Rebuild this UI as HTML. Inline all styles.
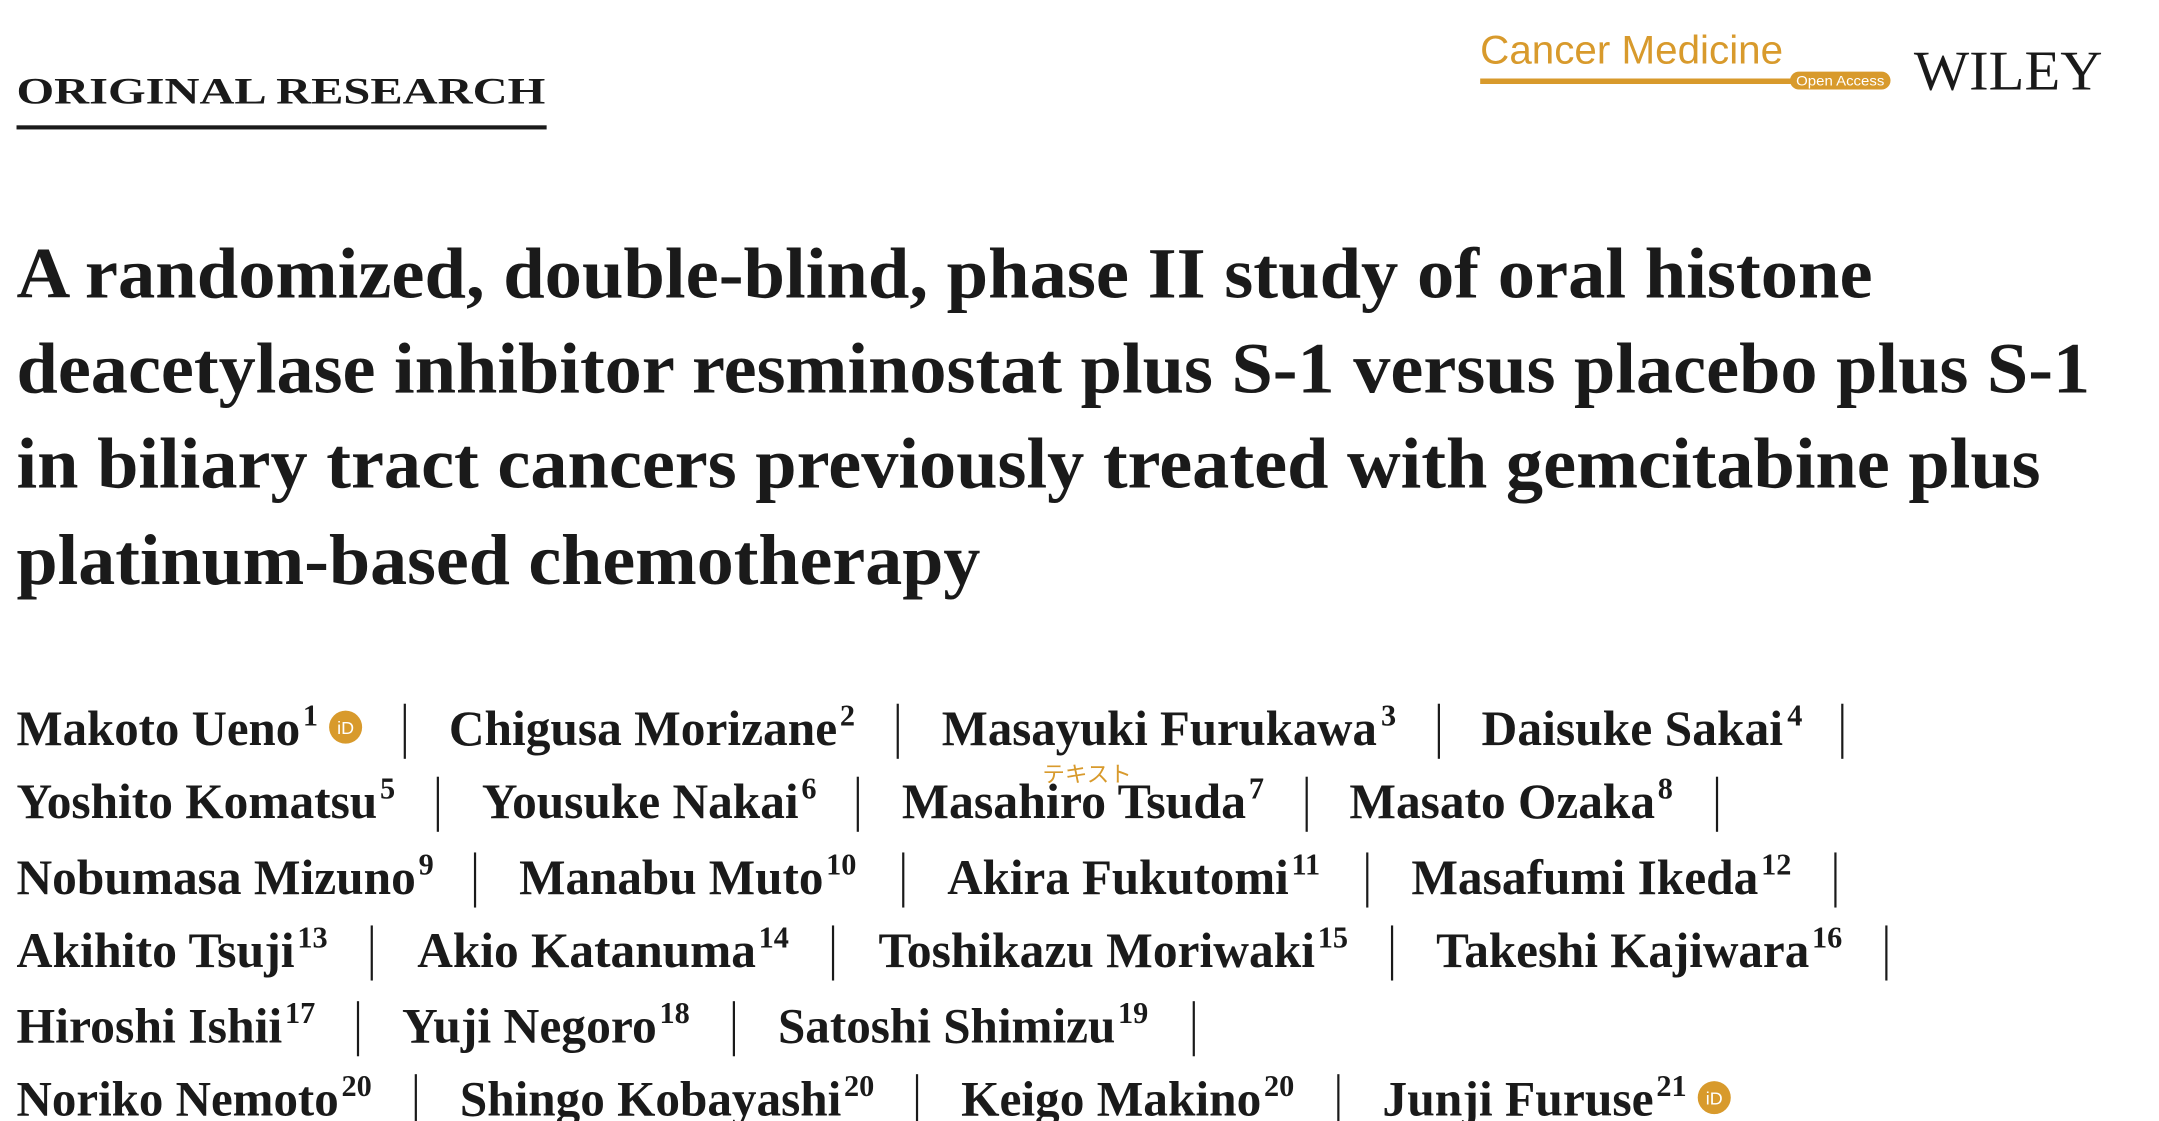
<!DOCTYPE html>
<html><head><meta charset="utf-8">
<style>
html,body{margin:0;padding:0;background:#fff;}
svg{display:block;}
.ser{font-family:"Liberation Serif","Noto Serif CJK SC",serif;font-weight:bold;fill:#1a1a1a;}
.san{font-family:"Liberation Sans","Noto Sans CJK JP",sans-serif;}
</style></head>
<body>
<svg id="pg" width="2159" height="1121" viewBox="0 0 1568 814" preserveAspectRatio="none" xmlns="http://www.w3.org/2000/svg">
  <text class="ser" x="12" y="75" font-size="27" textLength="384" lengthAdjust="spacingAndGlyphs">ORIGINAL RESEARCH</text>
  <rect x="12" y="91" width="385" height="3" fill="#1a1a1a"/>

  <text class="san" x="1075" y="46" font-size="29" fill="#D89A2C" textLength="220" lengthAdjust="spacingAndGlyphs">Cancer Medicine</text>
  <rect x="1075" y="57" width="226" height="4" fill="#D89A2C"/>
  <rect x="1300" y="52" width="73" height="13" rx="6.5" fill="#D89A2C"/>
  <text class="san" x="1336.5" y="62" font-size="10" fill="#fff" text-anchor="middle" textLength="64" lengthAdjust="spacingAndGlyphs">Open Access</text>
  <text x="1390" y="65" font-size="41" font-family="Liberation Serif, serif" fill="#1a1a1a" textLength="137" lengthAdjust="spacingAndGlyphs">WILEY</text>

  <g class="ser" font-size="52">
    <text x="12" y="216" textLength="1348" lengthAdjust="spacingAndGlyphs">A randomized, double-blind, phase II study of oral histone</text>
    <text x="12" y="285" textLength="1506" lengthAdjust="spacingAndGlyphs">deacetylase inhibitor resminostat plus S-1 versus placebo plus S-1</text>
    <text x="12" y="354" textLength="1470" lengthAdjust="spacingAndGlyphs">in biliary tract cancers previously treated with gemcitabine plus</text>
    <text x="12" y="424" textLength="700" lengthAdjust="spacingAndGlyphs">platinum-based chemotherapy</text>
  </g>

  <text class="san" x="757" y="568" font-size="16" fill="#D89A2C" textLength="65" lengthAdjust="spacingAndGlyphs">テキスト</text>

  <g id="authors"></g>
</svg>
<script>
var NS="http://www.w3.org/2000/svg";
var g=document.getElementById('authors');
var rows=[
 [541,[["Makoto Ueno",12,218,"1",220,251],["Chigusa Morizane",326,608,"2",610,0,294],["Masayuki Furukawa",684,1000,"3",1003,0,652],["Daisuke Sakai",1076,1295,"4",1298,0,1045]],1338],
 [594,[["Yoshito Komatsu",12,274,"5",276,0],["Yousuke Nakai",350,580,"6",582,0,318],["Masahiro Tsuda",655,905,"7",907,0,623],["Masato Ozaka",980,1202,"8",1204,0,949]],1247],
 [649,[["Nobumasa Mizuno",12,302,"9",304,0],["Manabu Muto",377,598,"10",600,0,345],["Akira Fukutomi",688,936,"11",938,0,656],["Masafumi Ikeda",1025,1277,"12",1279,0,993]],1333],
 [702,[["Akihito Tsuji",12,214,"13",216,0],["Akio Katanuma",303,549,"14",551,0,270],["Toshikazu Moriwaki",638,955,"15",957,0,605],["Takeshi Kajiwara",1043,1314,"16",1316,0,1011]],1370],
 [757,[["Hiroshi Ishii",12,205,"17",207,0],["Yuji Negoro",292,477,"18",479,0,260],["Satoshi Shimizu",565,810,"19",812,0,533]],867],
 [810,[["Noriko Nemoto",12,246,"20",248,0],["Shingo Kobayashi",334,611,"20",613,0,302],["Keigo Makino",698,916,"20",918,0,666],["Junji Furuse",1004,1201,"21",1203,1245,972]],null]
];
function pipe(x,y){
  var l=document.createElementNS(NS,'rect');
  l.setAttribute('x',x-0.8);l.setAttribute('y',y-30);l.setAttribute('width',1.6);l.setAttribute('height',40);l.setAttribute('fill','#1a1a1a');
  
  
  g.appendChild(l);
}
rows.forEach(function(r){
  var y=r[0];
  r[1].forEach(function(a){
    var t=document.createElementNS(NS,'text');
    t.setAttribute('class','ser');t.setAttribute('x',a[1]);t.setAttribute('y',y);t.setAttribute('font-size','36');
    t.setAttribute('textLength',a[2]-a[1]);t.setAttribute('lengthAdjust','spacingAndGlyphs');
    t.textContent=a[0];
    
    
    g.appendChild(t);
    var s=document.createElementNS(NS,'text');
    s.setAttribute('class','ser');s.setAttribute('x',a[4]);s.setAttribute('y',y-14);s.setAttribute('font-size','22');
    s.setAttribute('font-weight','normal');
    s.textContent=a[3];
    
    
    g.appendChild(s);
    if(a[6]) pipe(a[6],y);
    if(a[5]){
      var c=document.createElementNS(NS,'circle');
      c.setAttribute('cx',a[5]);c.setAttribute('cy',y-13);c.setAttribute('r',12);c.setAttribute('fill','#D89A2C');
      
      
      g.appendChild(c);
      var it=document.createElementNS(NS,'text');
      it.setAttribute('class','san');it.setAttribute('x',a[5]);it.setAttribute('y',y-8);it.setAttribute('font-size','13');it.setAttribute('fill','#fff');it.setAttribute('text-anchor','middle');
      it.textContent='iD';
      
      
      g.appendChild(it);
    }
  });
  if(r[2]) pipe(r[2],y);
});
</script>
</body></html>
